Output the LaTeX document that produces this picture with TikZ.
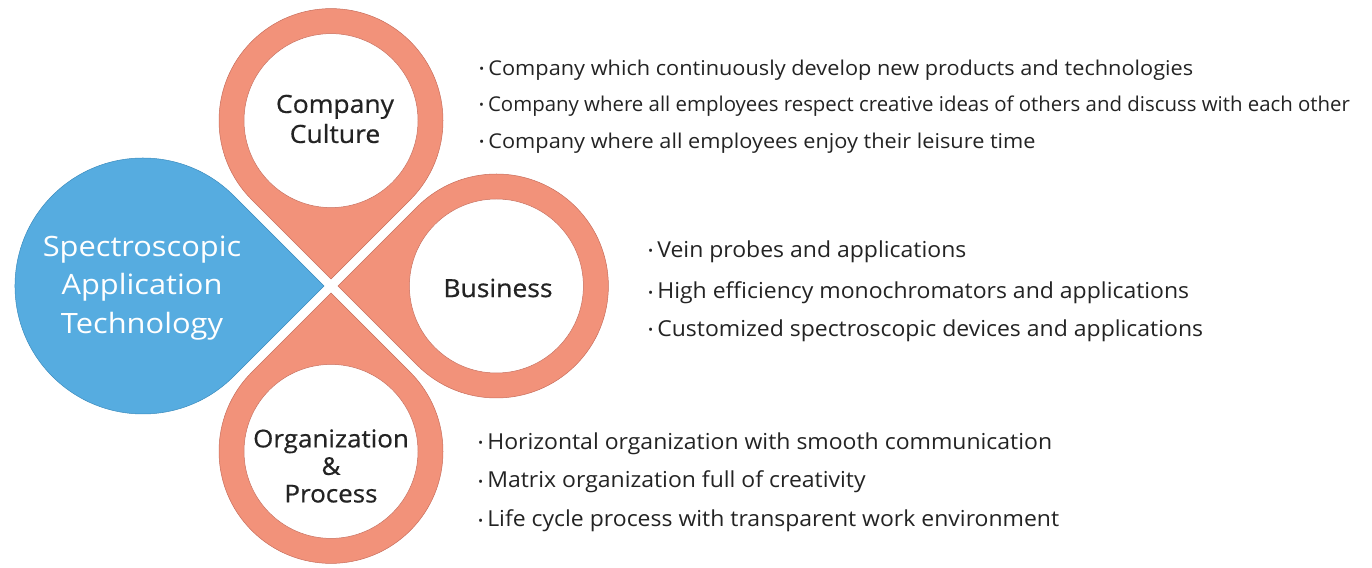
\documentclass[tikz,border=0pt]{standalone}
\usepackage{fontspec}
\setmainfont{Open Sans}
\newfontfamily\widefont[FakeStretch=1.045]{Open Sans}
\newfontfamily\midfont[FakeStretch=1.065]{Open Sans}
\newfontfamily\titlefont[FakeStretch=1.06, FakeBold=0.6]{Open Sans}
\newfontfamily\bigfont[FakeStretch=1.1]{Open Sans}
\definecolor{salmon}{RGB}{242,146,122}
\definecolor{salmonedge}{RGB}{200,110,92}
\definecolor{tblue}{RGB}{86,172,224}
\definecolor{tblueedge}{RGB}{60,140,190}
\definecolor{txt}{RGB}{35,35,35}
\newcommand{\mydrop}[5]{% tip, angle, R, fill, edge
  \begin{scope}[shift={(#1)}, rotate=#2]
    \filldraw[fill=#4, draw=#5, line width=0.5pt] (0,0) -- (135:#3) arc[start angle=45, end angle=315, radius=#3] -- cycle;
  \end{scope}}
\newcommand{\myhole}[4]{% tip, angle, R, r
  \begin{scope}[shift={(#1)}, rotate=#2]
    \filldraw[fill=white, draw=salmonedge, line width=0.5pt] ({-1.41421*#3},0) circle[radius=#4];
  \end{scope}}
\tikzset{
  title/.style={text=txt, font=\titlefont\fontsize{25}{30}\selectfont, align=center, inner sep=0pt},
  bigtitle/.style={text=white, font=\bigfont\fontsize{28}{38.5}\selectfont, align=center, inner sep=0pt},
  item/.style={text=txt, font=\widefont\fontsize{22}{24}\selectfont, anchor=west, inner sep=0pt},
  citem/.style={text=txt, font=\fontsize{20.4}{24}\selectfont, anchor=west, inner sep=0pt},
  witem/.style={text=txt, font=\midfont\fontsize{20.4}{24}\selectfont, anchor=west, inner sep=0pt},
}
\newcommand{\bul}{{\fontsize{13}{13}\selectfont\raisebox{0.25ex}{•}}\hspace{4pt}}
\begin{document}
\begin{tikzpicture}[x=1pt, y=1pt]
\useasboundingbox (0,0) rectangle (1372,567);
\coordinate (C) at (331,281);
\coordinate (tB) at (324,281);
\coordinate (tT) at (331,288);
\coordinate (tR) at (338,281);
\coordinate (tD) at (331,274);
% blue drop
\mydrop{tB}{0}{128}{tblue}{tblueedge}
% salmon rings
\mydrop{tT}{-90}{112}{salmon}{salmonedge}
\myhole{tT}{-90}{112}{87}
\mydrop{tR}{180}{112}{salmon}{salmonedge}
\myhole{tR}{180}{112}{87}
\mydrop{tD}{90}{112}{salmon}{salmonedge}
\myhole{tD}{90}{112}{87}
% titles
\node[bigtitle] (sat) at (142,279) {Spectroscopic\\Application\\Technology};
\node[title] (cc) at (335,448) {Company\\Culture};
\node[title] (bus) at (498,279) {Business};
\node[title, font=\titlefont\fontsize{24.5}{27.5}\selectfont] (op) at (331,101) {Organization\\\&\\Process};
% bullets
\node[witem] (c1) at (479,497) {\bul Company which continuously develop new products and technologies};
\node[citem] (c2) at (479,461) {\bul Company where all employees respect creative ideas of others and discuss with each other};
\node[witem] (c3) at (479,424) {\bul Company where all employees enjoy their leisure time};
\node[item] (b1) at (648,315) {\bul Vein probes and applications};
\node[item] (b2) at (648,274) {\bul High efficiency monochromators and applications};
\node[item] (b3) at (648,236) {\bul Customized spectroscopic devices and applications};
\node[item] (o1) at (478,123) {\bul Horizontal organization with smooth communication};
\node[item] (o2) at (478,85) {\bul Matrix organization full of creativity};
\node[item] (o3) at (478,46) {\bul Life cycle process with transparent work environment};
\end{tikzpicture}
\end{document}
